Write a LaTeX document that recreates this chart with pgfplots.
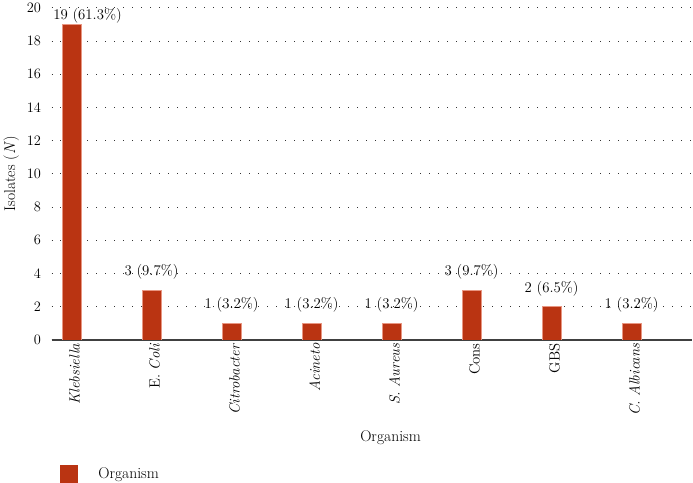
\documentclass[border=0pt]{standalone}
\usepackage{pgfplots}
\pgfplotsset{compat=1.18}
\definecolor{barcol}{RGB}{186,52,18}
\definecolor{baredge}{RGB}{232,150,130}
\begin{document}
\begin{tikzpicture}
\begin{axis}[
  scale only axis, width=641pt, height=332pt,
  font=\fontsize{15.6}{18}\selectfont,
  xmin=-0.25, xmax=7.76, ymin=0, ymax=20,
  ytick={0,2,...,20},
  xtick={0,...,7},
  xticklabels={\textit{Klebsiella}, E. \textit{Coli}, \textit{Citrobacter}, \textit{Acineto}, \textit{S. Aureus}, Cons, GBS, \textit{C. Albicans}},
  xticklabel style={rotate=90, anchor=east, yshift=-3pt, font=\fontsize{14.8}{17}\selectfont},
  yticklabel style={xshift=-7pt, font=\fontsize{14.8}{17}\selectfont},
  major tick length=0pt,
  axis lines=left,
  x axis line style={-, draw=black!75, line width=1.2pt},
  y axis line style={draw=none},
  ymajorgrids,
  grid style={black!80, line width=1pt, dash pattern=on 1pt off 8pt},
  xlabel={Organism},
  xlabel style={at={(axis description cs:0.529,-0.295)}, anchor=center},
  ylabel={Isolates (\textit{N})},
  ylabel style={at={(axis description cs:-0.063,0.5)}, anchor=center},
  legend style={at={(axis description cs:0.0125,-0.431)}, anchor=south west, draw=none, fill=none, inner sep=0pt, font=\fontsize{15.6}{18}\selectfont},
  legend image code/.code={\fill[barcol] (0pt,-8.5pt) rectangle (17pt,8.5pt); \path (36pt,0pt);},
  legend cell align=left,
  legend style={/tikz/every even column/.append style={column sep=0pt}},
]
\addplot[ybar, bar width=19pt, bar shift=0pt, fill=barcol, draw=baredge, line width=0.6pt,
  point meta=explicit symbolic,
  nodes near coords, every node near coord/.append style={yshift=7pt, font=\fontsize{14.8}{17}\selectfont}]
  coordinates {
  (0,19) []
  (1,3) [3 (9.7\%)]
  (2,1) [1 (3.2\%)]
  (3,1) [1 (3.2\%)]
  (4,1) [1 (3.2\%)]
  (5,3) [3 (9.7\%)]
  (6,2) [2 (6.5\%)]
  (7,1) [1 (3.2\%)]
  };
\addlegendentry{Organism}
\addplot[draw=none, mark=none, forget plot, point meta=explicit symbolic,
  nodes near coords, every node near coord/.append style={xshift=16pt, yshift=-2pt, font=\fontsize{14.8}{17}\selectfont}]
  coordinates {(0,19) [19 (61.3\%)]};
\end{axis}
\end{tikzpicture}
\end{document}
